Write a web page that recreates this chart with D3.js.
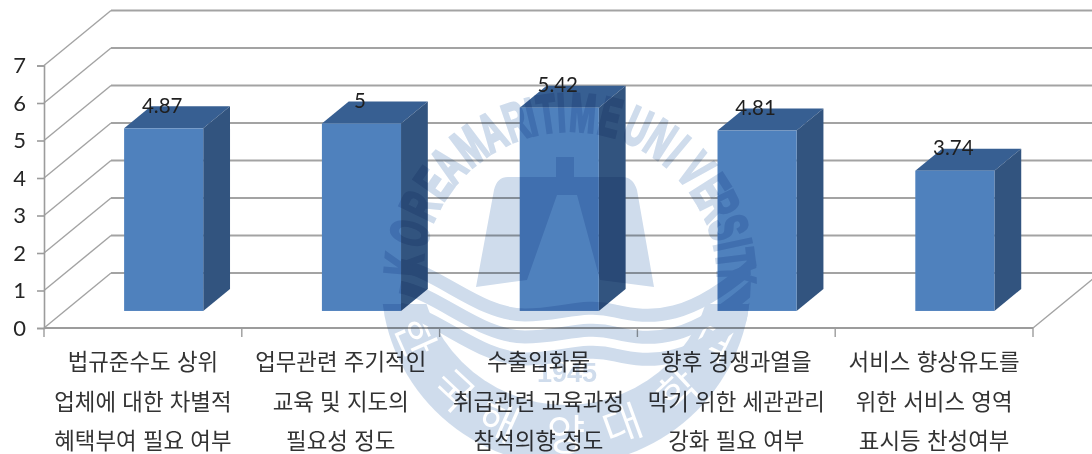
<!DOCTYPE html>
<html lang="ko">
<head>
<meta charset="utf-8">
<script src="https://cdn.jsdelivr.net/npm/d3@7/dist/d3.min.js"></script>
<style>
  html, body { margin: 0; padding: 0; background: #fff; overflow: hidden; }
  svg { display: block; }
</style>
</head>
<body>
<svg id="chart" width="1092" height="454"></svg>
<script>
// Survey averages shown as 3-D style columns
const categories = ["a", "b", "c", "d", "e"];
const values = [4.87, 5, 5.42, 4.81, 3.74];
const valueLabels = ["4.87", "5", "5.42", "4.81", "3.74"];
const categoryLines = [
  ["법규준수도 상위", "업체에 대한 차별적", "혜택부여 필요 여부"],
  ["업무관련 주기적인", "교육 및 지도의", "필요성 정도"],
  ["수출입화물", "취급관련 교육과정", "참석의향 정도"],
  ["향후 경쟁과열을", "막기 위한 세관관리", "강화 필요 여부"],
  ["서비스 향상유도를", "위한 서비스 영역", "표시등 찬성여부"]
];
const yTicks = [0, 1, 2, 3, 4, 5, 6, 7];

const svg = d3.select("#chart");

// Plot box of the front plane and the oblique depth vector
const x = d3.scaleBand().domain(categories).range([44, 1033]);
const y = d3.scaleLinear().domain([0, 7]).range([328, 65.5]);
const depth = { x: 67, y: -55 };
const barInset = 0.31;   // how far into the depth the column starts
const barDepth = 0.40;   // how much of the depth it fills
const barWidth = x.bandwidth() * 0.4;

const gridColor = "#a3a3a3";
const axisColor = "#9c9c9c";
const rightEdge = x.range()[1];

// Back wall, side wall and floor
const walls = svg.append("g").attr("fill", "none");
walls.selectAll("line.back").data(yTicks).join("line").attr("class", "back")
  .attr("x1", x.range()[0] + depth.x).attr("x2", 1100)
  .attr("y1", t => y(t) + depth.y).attr("y2", t => y(t) + depth.y)
  .attr("stroke", gridColor).attr("stroke-width", 1.8);
walls.selectAll("line.side").data(yTicks).join("line").attr("class", "side")
  .attr("x1", x.range()[0]).attr("x2", x.range()[0] + depth.x)
  .attr("y1", t => y(t)).attr("y2", t => y(t) + depth.y)
  .attr("stroke", gridColor).attr("stroke-width", 1.4);
walls.append("line")
  .attr("x1", rightEdge).attr("y1", y(0))
  .attr("x2", rightEdge + depth.x).attr("y2", y(0) + depth.y)
  .attr("stroke", gridColor).attr("stroke-width", 1.4);

// Axes
const yAxis = d3.axisLeft(y).tickValues(yTicks).tickFormat(d3.format("d")).tickSize(7).tickPadding(11);
const gy = svg.append("g").attr("transform", `translate(${x.range()[0]},0)`).call(yAxis);
gy.selectAll("text").attr("font-family", "Lato, 'Open Sans', sans-serif")
  .attr("font-size", 22).attr("fill", "#262626");
gy.selectAll("line, path").attr("stroke", axisColor).attr("stroke-width", 1.6);

const xEdges = d3.range(categories.length + 1).map(i => x.range()[0] + i * x.step());
const gx = svg.append("g");
gx.append("line").attr("x1", x.range()[0]).attr("x2", rightEdge)
  .attr("y1", y(0)).attr("y2", y(0)).attr("stroke", axisColor).attr("stroke-width", 1.8);
gx.selectAll("line.tick").data(xEdges).join("line").attr("class", "tick")
  .attr("x1", d => d).attr("x2", d => d)
  .attr("y1", y(0)).attr("y2", y(0) + 9)
  .attr("stroke", axisColor).attr("stroke-width", 1.4);

// Columns: front, top and side faces
const bars = svg.append("g").selectAll("g").data(values).join("g");
const barLeft = (d, i) => x(categories[i]) + x.bandwidth() / 2 - barWidth / 2 + depth.x * barInset;
const barBase = y(0) + depth.y * barInset;
const barTop = d => y(d) + depth.y * barInset;
const ox = depth.x * barDepth, oy = depth.y * barDepth;

bars.append("path").attr("fill", "#375f92").attr("d", (d, i) => {
  const l = barLeft(d, i), t = barTop(d);
  return `M${l},${t}L${l + ox},${t + oy}L${l + barWidth + ox},${t + oy}L${l + barWidth},${t}Z`;
});
bars.append("path").attr("fill", "#32547f").attr("d", (d, i) => {
  const r = barLeft(d, i) + barWidth, t = barTop(d);
  return `M${r},${t}L${r + ox},${t + oy}L${r + ox},${barBase + oy}L${r},${barBase}Z`;
});
bars.append("rect").attr("fill", "#4f81bd")
  .attr("x", barLeft).attr("y", barTop)
  .attr("width", barWidth).attr("height", d => barBase - barTop(d));

// Value labels just above each column
svg.append("g").selectAll("text").data(values).join("text")
  .attr("x", (d, i) => barLeft(d, i) + barWidth / 2 - 1.5)
  .attr("y", d => barTop(d) - 15.5)
  .attr("text-anchor", "middle")
  .attr("font-family", "Lato, 'Open Sans', sans-serif")
  .attr("font-size", 20.5).attr("fill", "#1f1f1f")
  .text((d, i) => valueLabels[i]);

// Three-line category captions centred on each band
const lineYs = [370, 410, 449];
const captions = svg.append("g").selectAll("g").data(categoryLines).join("g")
  .attr("transform", (d, i) => `translate(${x(categories[i]) + x.bandwidth() / 2},0)`);
captions.selectAll("text").data(d => d).join("text")
  .attr("y", (d, i) => lineYs[i])
  .attr("text-anchor", "middle")
  .attr("font-family", "'Noto Sans CJK KR', sans-serif")
  .attr("font-weight", 400)
  .attr("font-size", 22.4).attr("fill", "#333")
  .text(d => d);

// University seal printed over the chart
const sealColor = "#cfdcec";
const seal = svg.append("g").style("mix-blend-mode", "multiply");
const cx = 566;

const defs = svg.append("defs");
defs.append("mask").attr("id", "ringMask").call(m => {
  m.append("rect").attr("width", 1092).attr("height", 454).attr("fill", "#000");
  m.append("circle").attr("cx", cx).attr("cy", 280).attr("r", 185).attr("fill", "#fff");
  m.append("circle").attr("cx", cx).attr("cy", 258).attr("r", 147).attr("fill", "#000");
  m.append("rect").attr("x", 300).attr("y", 0).attr("width", 500).attr("height", 304).attr("fill", "#000");

  // Lettering knocked out of the lower ring
  const ring = ["한", "국", "해", "양", "대", "학", "교"];
  const ringAngles = [-66, -43, -24, 0, 20, 43, 64];
  m.selectAll("text").data(ring).join("text")
    .attr("transform", (d, i) => {
      const a = ringAngles[i] * Math.PI / 180, r = 165;
      return `translate(${cx + r * Math.sin(a)},${270 + r * Math.cos(a)}) rotate(${-ringAngles[i]})`;
    })
    .attr("text-anchor", "middle").attr("dy", "0.36em")
    .attr("font-family", "'Noto Sans CJK KR', sans-serif")
    .attr("font-size", 42).attr("font-weight", 400).attr("fill", "#000")
    .text(d => d);
});
defs.append("clipPath").attr("id", "waveClip").append("circle")
  .attr("cx", cx).attr("cy", 280).attr("r", 185);

seal.append("rect").attr("width", 1092).attr("height", 454)
  .attr("fill", sealColor).attr("mask", "url(#ringMask)");

// Gate emblem with central mast
seal.append("path").attr("fill", sealColor).attr("d",
  "M556,157 H574 V177 H622 Q633,177 637,190 L654,287 L600,280 L577,195 H557 L527,280 L476,287 L494,190 Q497,177 508,177 H556 Z");

// Wave bands across the middle of the seal
const waveOffsets = [3, 25, 47];
seal.append("g").attr("clip-path", "url(#waveClip)")
  .selectAll("path").data(waveOffsets).join("path")
  .attr("d", "M400,262 C440,270 480,312 525,312 C560,312 585,300 615,308 C650,316 690,320 760,255")
  .attr("transform", d => `translate(0,${d})`)
  .attr("fill", "none").attr("stroke", sealColor).attr("stroke-width", 13);

// Curved English name, one letter at a time
const nameLetters = "KOREAMARITIMEUNIVERSITY".split("");
const nameAngles = [-85, -74, -64, -55, -47, -37, -28, -19, -13.5, -8, -3, 4.5, 14, 24, 33, 40, 49, 57.5, 64, 72, 78, 83, 88];
const nameCx = 570, nameCy = 279, nameR = 148;
seal.append("g").selectAll("text").data(nameLetters).join("text")
  .attr("transform", (d, i) => {
    const a = nameAngles[i] * Math.PI / 180;
    return `translate(${nameCx + nameR * Math.sin(a)},${nameCy - nameR * Math.cos(a)}) rotate(${nameAngles[i]}) scale(0.58,1)`;
  })
  .attr("text-anchor", "middle")
  .attr("font-family", "'Liberation Sans', sans-serif")
  .attr("font-weight", 700).attr("font-size", 54).attr("fill", sealColor)
  .attr("stroke", sealColor).attr("stroke-width", 3)
  .style("paint-order", "stroke")
  .text(d => d);

// Founding year
seal.append("text").attr("x", cx + 1).attr("y", 382).attr("text-anchor", "middle")
  .attr("font-family", "'Liberation Sans', sans-serif").attr("font-weight", 700)
  .attr("font-size", 27).attr("fill", sealColor).text("1945");
</script>
</body>
</html>
